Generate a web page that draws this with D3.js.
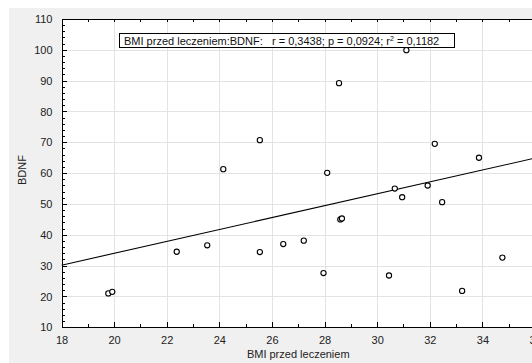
<!DOCTYPE html>
<html>
<head>
<meta charset="utf-8">
<script src="https://cdn.jsdelivr.net/npm/d3@7"></script>
<style>
  html, body { margin: 0; padding: 0; background: #fff; }
  svg { display: block; font-family: "Liberation Sans", Arial, sans-serif; }
  .grid line { stroke: #e3e3e3; shape-rendering: crispEdges; }
  .axis path, .axis line { stroke: #000; shape-rendering: crispEdges; }
  .axis text { font-size: 11px; fill: #222; }
  .pt { fill: #fff; stroke: #000; stroke-width: 1.1px; }
  .fit { fill: none; stroke: #000; stroke-width: 1.1px; }
  .legend text { white-space: pre; }
</style>
</head>
<body>
<svg id="chart" width="532" height="363"></svg>
<script>
// BMI przed leczeniem vs BDNF
var bmi  = [19.78, 19.93, 22.38, 23.54, 24.15, 25.54, 28.55, 28.10, 28.60, 28.66,
            25.54, 26.43, 27.21, 27.96, 31.11, 32.19, 33.87, 30.67, 31.92, 30.95,
            32.47, 30.45, 33.23, 34.76];
var bdnf = [21.0, 21.5, 34.5, 36.6, 61.3, 70.7, 89.2, 60.1, 45.0, 45.3,
            34.4, 37.0, 38.1, 27.6, 99.9, 69.5, 65.0, 55.0, 56.0, 52.2,
            50.6, 26.8, 21.8, 32.6];
var fitIntercept = -4.6, fitSlope = 1.93;
var xTicks = [18, 20, 22, 24, 26, 28, 30, 32, 34, 36];
var yTicks = [10, 20, 30, 40, 50, 60, 70, 80, 90, 100, 110];
var legendText = "BMI przed leczeniem:BDNF:   r = 0,3438; p = 0,0924; r";
var legendTail = " = 0,1182";

var svg = d3.select("#chart");
var pL = 61.5, pT = 19, pR = 535, pB = 327.3;

// grey panel
svg.append("rect").attr("x", 9).attr("y", 8).attr("width", 523).attr("height", 355).attr("fill", "#f0f0f0");
svg.append("rect").attr("x", pL).attr("y", pT).attr("width", pR - pL).attr("height", pB - pT).attr("fill", "#fff");

var x = d3.scaleLinear().domain([18, 36]).range([pL, pR]);
var y = d3.scaleLinear().domain([10, 110]).range([pB, pT]);

var g = svg.append("g");

// gridlines
g.append("g").attr("class", "grid")
  .selectAll("line").data(xTicks.slice(1, -1)).join("line")
  .attr("x1", function(d) { return Math.round(x(d)) + 0.5; })
  .attr("x2", function(d) { return Math.round(x(d)) + 0.5; })
  .attr("y1", pT).attr("y2", pB);
g.append("g").attr("class", "grid")
  .selectAll("line").data(yTicks.slice(1, -1)).join("line")
  .attr("y1", function(d) { return Math.round(y(d)) + 0.5; })
  .attr("y2", function(d) { return Math.round(y(d)) + 0.5; })
  .attr("x1", pL).attr("x2", pR);

// axes (ticks point inward)
var xMinor = d3.range(18, 37, 1);
var yMinor = d3.range(10, 111, 2);

g.append("g").attr("class", "axis")
  .attr("transform", "translate(0," + pB + ")")
  .call(d3.axisBottom(x).tickValues(xMinor).tickSize(-3).tickFormat("").tickSizeOuter(0));
g.append("g").attr("class", "axis")
  .attr("transform", "translate(0," + pB + ")")
  .call(d3.axisBottom(x).tickValues(xTicks).tickSize(-5).tickPadding(9).tickSizeOuter(0));
g.append("g").attr("class", "axis")
  .attr("transform", "translate(0," + pT + ")")
  .call(d3.axisTop(x).tickValues(xMinor).tickSize(-3).tickFormat("").tickSizeOuter(0));
g.append("g").attr("class", "axis")
  .attr("transform", "translate(" + pL + ",0)")
  .call(d3.axisLeft(y).tickValues(yMinor).tickSize(-3).tickFormat("").tickSizeOuter(0));
g.append("g").attr("class", "axis")
  .attr("transform", "translate(" + pL + ",0)")
  .call(d3.axisLeft(y).tickValues(yTicks).tickSize(-5).tickPadding(9).tickSizeOuter(0));

// fit line
svg.append("clipPath").attr("id", "clip").append("rect")
  .attr("x", pL).attr("y", pT).attr("width", pR - pL).attr("height", pB - pT);
g.append("line").attr("class", "fit").attr("clip-path", "url(#clip)")
  .attr("x1", x(18)).attr("y1", y(fitIntercept + fitSlope * 18))
  .attr("x2", x(36)).attr("y2", y(fitIntercept + fitSlope * 36));

// points
g.selectAll("circle.pt").data(d3.range(bmi.length)).join("circle")
  .attr("class", "pt")
  .attr("cx", function(i) { return x(bmi[i]); })
  .attr("cy", function(i) { return y(bdnf[i]); })
  .attr("r", 2.6);

// legend box
var lg = svg.append("g").attr("class", "legend");
lg.append("rect").attr("x", 119.5).attr("y", 33.5).attr("width", 335).attr("height", 14)
  .attr("fill", "#fff").attr("stroke", "#000");
var t = lg.append("text").attr("x", 124).attr("y", 44.5).attr("font-size", "11px").attr("fill", "#111");
t.append("tspan").text(legendText);
t.append("tspan").attr("dy", -4).attr("font-size", "7px").text("2");
t.append("tspan").attr("dy", 4).text(legendTail);

// axis titles
svg.append("text").attr("x", (pL + pR) / 2).attr("y", 358).attr("text-anchor", "middle")
  .attr("font-size", "11px").attr("fill", "#222").text("BMI przed leczeniem");
svg.append("text").attr("transform", "translate(26,170) rotate(-90)").attr("text-anchor", "middle")
  .attr("font-size", "11px").attr("fill", "#222").text("BDNF");
</script>
</body>
</html>
